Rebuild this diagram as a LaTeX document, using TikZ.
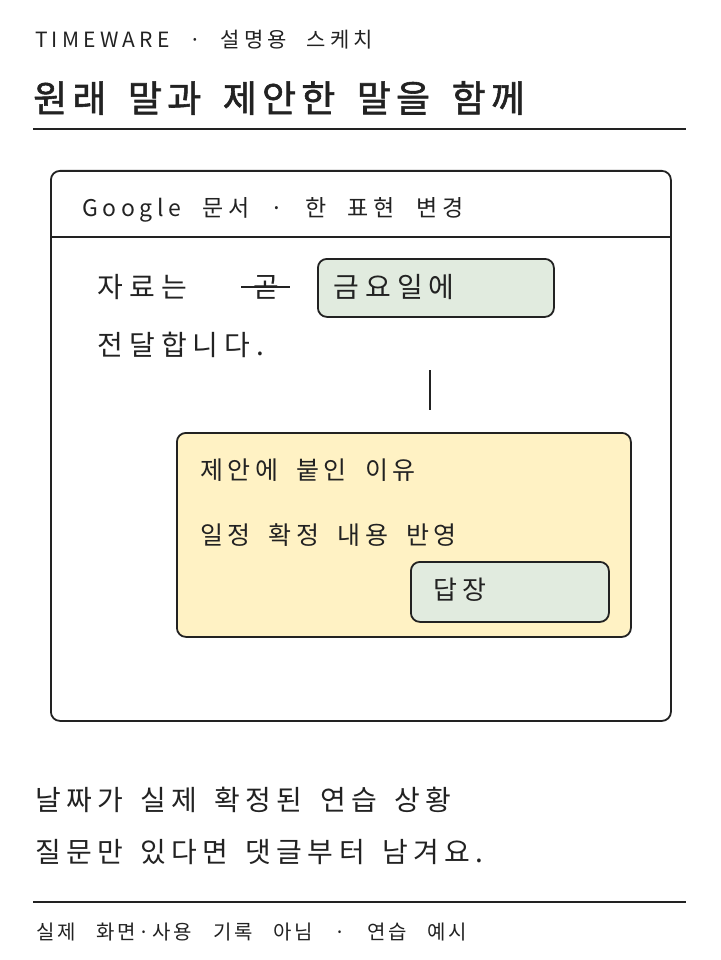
\documentclass[tikz,border=0pt]{standalone}
\usepackage{fontspec}
\newfontfamily\krK[LetterSpace=20,WordSpace=1.8]{Noto Sans CJK KR}
\newfontfamily\krT[LetterSpace=14,WordSpace=1.6,FakeBold=1.5]{Noto Sans CJK KR}
\newfontfamily\krG[LetterSpace=20,WordSpace=2.2]{Noto Sans CJK KR}
\newfontfamily\krS[LetterSpace=22,WordSpace=2]{Noto Sans CJK KR}
\newfontfamily\krC[LetterSpace=18,WordSpace=1.8]{Noto Sans CJK KR}
\newfontfamily\krB[LetterSpace=19,WordSpace=1.5]{Noto Sans CJK KR}
\newfontfamily\krF[LetterSpace=13,WordSpace=3]{Noto Sans CJK KR}
\definecolor{ink}{HTML}{222222}
\definecolor{greenfill}{HTML}{E1EBDF}
\definecolor{yellowfill}{HTML}{FFF2C4}
\tikzset{
  txt/.style={anchor=west,inner sep=0pt,text=ink},
  frame/.style={draw=ink,line width=1.8pt,rounded corners=9pt},
  chip/.style={draw=ink,line width=1.8pt,rounded corners=9pt,fill=greenfill},
  note/.style={draw=ink,line width=1.8pt,rounded corners=9pt,fill=yellowfill},
  rule/.style={draw=ink,line width=1.6pt},
}
\begin{document}
\begin{tikzpicture}[x=1pt,y=-1pt]
\useasboundingbox[fill=white] (0,0) rectangle (720,960);
% header
\node[txt,font=\krK\fontsize{21}{25}\selectfont] (kicker) at (35,40) {TIMEWARE · 설명용 스케치};
\node[txt,font=\krT\fontsize{37}{41}\selectfont] (title) at (33,98) {원래 말과 제안한 말을 함께};
\coordinate (r1a) at (33,129); \coordinate (r1b) at (686,129);
\draw[rule] (r1a) -- (r1b);
% document frame
\node[frame,minimum width=620pt,minimum height=550pt,anchor=north west] (doc) at (50,170) {};
\coordinate (sepL) at (50,237); \coordinate (sepR) at (670,237);
\draw[rule] (sepL) -- (sepR);
\node[txt,font=\krG\fontsize{23}{27}\selectfont] (doctitle) at (82,210) {Google 문서 · 한 표현 변경};
% sentence
\node[txt,font=\krS\fontsize{28}{32}\selectfont] (s1) at (97,287) {자료는};
\node[txt,font=\krS\fontsize{28}{32}\selectfont] (old) at (253,287) {곧};
\coordinate (stA) at (241,287); \coordinate (stB) at (290,287);
\draw[ink,line width=1.6pt] (stA) -- (stB);
\node[chip,minimum width=236pt,minimum height=58pt,anchor=north west] (new) at (317,258) {};
\node[txt,font=\krS\fontsize{28}{32}\selectfont] (newtxt) at (333,287) {금요일에};
\node[txt,font=\krS\fontsize{28}{32}\selectfont] (s2) at (97,345) {전달합니다.};
% link
\coordinate (lnA) at (430,370); \coordinate (lnB) at (430,410);
\draw[ink,line width=1.6pt] (lnA) -- (lnB);
% comment
\node[note,minimum width=454pt,minimum height=204pt,anchor=north west] (cmt) at (176,432) {};
\node[txt,font=\krC\fontsize{25}{29}\selectfont] (c1) at (200,470) {제안에 붙인 이유};
\node[txt,font=\krC\fontsize{25}{29}\selectfont] (c2) at (200,535) {일정 확정 내용 반영};
\node[chip,minimum width=198pt,minimum height=60pt,anchor=north west] (reply) at (410,561) {};
\node[txt,font=\krS\fontsize{26}{30}\selectfont] (replytxt) at (433,590) {답장};
% bottom
\node[txt,font=\krB\fontsize{28}{32}\selectfont] (b1) at (35,800) {날짜가 실제 확정된 연습 상황};
\node[txt,font=\krB\fontsize{28}{32}\selectfont] (b2) at (35,852) {질문만 있다면 댓글부터 남겨요.};
\coordinate (r2a) at (33,902); \coordinate (r2b) at (686,902);
\draw[rule] (r2a) -- (r2b);
\node[txt,font=\krF\fontsize{20}{24}\selectfont] (foot) at (36,932) {실제 화면·사용 기록 아님 · 연습 예시};
\end{tikzpicture}
\end{document}
